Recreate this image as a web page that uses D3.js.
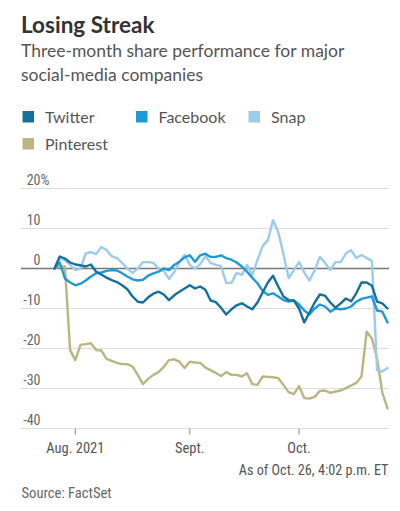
<!DOCTYPE html>
<html>
<head>
<meta charset="utf-8">
<script src="https://cdn.jsdelivr.net/npm/d3@7"></script>
<style>
  html, body { margin: 0; padding: 0; background: #ffffff; }
  svg { display: block; }
  .narrow { font-family: "Liberation Sans Narrow", "Roboto Condensed", "DejaVu Sans Condensed", "Roboto", sans-serif; }
</style>
</head>
<body>
<svg id="chart" width="400" height="511"></svg>
<script>
// ---- DATA ----
const dates = [
  "2021-07-27","2021-07-28","2021-07-29","2021-07-30",
  "2021-08-02","2021-08-03","2021-08-04","2021-08-05","2021-08-06",
  "2021-08-09","2021-08-10","2021-08-11","2021-08-12","2021-08-13",
  "2021-08-16","2021-08-17","2021-08-18","2021-08-19","2021-08-20",
  "2021-08-23","2021-08-24","2021-08-25","2021-08-26","2021-08-27",
  "2021-08-30","2021-08-31",
  "2021-09-01","2021-09-02","2021-09-03",
  "2021-09-07","2021-09-08","2021-09-09","2021-09-10",
  "2021-09-13","2021-09-14","2021-09-15","2021-09-16","2021-09-17",
  "2021-09-20","2021-09-21","2021-09-22","2021-09-23","2021-09-24",
  "2021-09-27","2021-09-28","2021-09-29","2021-09-30",
  "2021-10-01",
  "2021-10-04","2021-10-05","2021-10-06","2021-10-07","2021-10-08",
  "2021-10-11","2021-10-12","2021-10-13","2021-10-14","2021-10-15",
  "2021-10-18","2021-10-19","2021-10-20","2021-10-21","2021-10-22",
  "2021-10-25","2021-10-26"
];

const twitter = [
  0, 3, 2.5, 1.5, 1, 0.8, 0.5, 1, -0.8, -1.5,
  -2.3, -2.9, -3.4, -4.2, -5.2, -7, -8.3, -8.5, -7.2, -6.3,
  -5.8, -6.5, -7.9, -6.7, -5.8, -5, -4.2, -5, -4.5, -5.3,
  -8, -8.4, -9.8, -11.5, -10.2, -9.2, -8.7, -9.5, -10.2, -8.5,
  -6, -3.5, -1.8, -4.5, -7, -7.9, -8, -10, -13.5, -11,
  -8.5, -6.5, -6.8, -8.5, -9.8, -8.7, -7.5, -8.2, -6.2, -3.5,
  -3.5, -4.3, -8.3, -8.7, -10
];

const facebook = [
  0, 1.5, -2.5, -3.5, -4.2, -3.8, -3, -2, -1.2, -1,
  -0.6, -0.4, -0.5, -1.2, -2, -2.7, -3, -2.8, -1.8, -1.2,
  -0.8, 0, -0.4, 0.9, 1.7, 2.8, 3.3, 1.7, 3.3, 3.7,
  2.9, 2.9, 3.3, 2.6, 2.2, 1.5, 0.5, -0.8, -2.3, -3.7,
  -5.6, -6.6, -6.2, -7, -7.9, -8.3, -8, -9, -10.5, -11.5,
  -10, -9, -9.5, -10.8, -10, -10.2, -10, -9.5, -8.3, -7.6,
  -7.3, -7, -10.5, -10.8, -13.5
];

const snap = [
  0, 2.5, 2, 0.9, -0.4, 0, 3.75, 4.1, 3.6, 5.4,
  4.6, 3.1, 2.6, 1.4, 0, -1.1, 0, 1.6, 1.6, 1.4,
  0, -0.6, -2.6, -0.9, 1.6, 3.4, 0.9, 0, 1.1, 3.1,
  1.4, 0.9, 0.6, -3.6, -3.6, -1.1, -1.6, 0.9, -1.6, 2.1,
  5.6, 7.1, 12.1, 9.1, 3.6, -2.4, -0.4, 1.6, -1, -3,
  -0.4, 2.9, 1.4, -0.4, 1.6, 1.6, 3.75, 4.6, 2.6, 3.4,
  2.6, 1.9, -25.4, -25.75, -24.9
];

const pinterest = [
  0, 0.5, 0.5, -20.4, -22.9, -19.1, -18.9, -18.7, -20.4, -20.5,
  -22.6, -23.1, -23.6, -23.9, -23.9, -24.5, -26.6, -28.9, -27.6, -26.6,
  -25.9, -24.6, -22.9, -22.7, -23.3, -24.9, -23.3, -23.5, -23.6, -24.8,
  -25.4, -26.1, -26.9, -25.9, -26.6, -26.6, -27, -26.2, -28.9, -29.1,
  -27, -27.1, -27.2, -27.4, -29.1, -30.9, -31.4, -29.4, -32.4, -32.5,
  -32.1, -30.6, -30.5, -31.1, -30.75, -30.5, -29.9, -29.25, -28.6, -27,
  -15.8, -17.5, -22.5, -31, -35
];

const seriesNames = ["Twitter", "Facebook", "Snap", "Pinterest"];
const seriesColors = ["#17709b", "#1d9ad6", "#9dcbeb", "#bab682"];
const seriesValues = [twitter, facebook, snap, pinterest];

const yTickValues = [20, 10, 0, -10, -20, -30, -40];
const xTickDates = ["2021-08-02", "2021-09-01", "2021-10-01"];
const xTickLabels = ["Aug. 2021", "Sept.", "Oct."];

const titleText = "Losing Streak";
const subtitleLines = ["Three-month share performance for major", "social-media companies"];
const noteText = "As of Oct. 26, 4:02 p.m. ET";
const sourceText = "Source: FactSet";

// ---- CHART ----
const svg = d3.select("#chart");
const gridLeft = 21, gridRight = 389;

const x = d3.scalePoint().domain(dates).range([54.5, 387.5]);
const y = d3.scaleLinear().domain([-40, 20]).range([428.5, 188.5]);

// Layers
const gGrid = svg.append("g");
const gZero = svg.append("g");
const gLines = svg.append("g");
const gText = svg.append("g");

// Title & subtitle
gText.append("text")
  .attr("x", 21).attr("y", 32.5)
  .attr("font-family", "Lato, 'Open Sans', sans-serif")
  .attr("font-weight", 700).attr("font-size", 22.5)
  .attr("fill", "#333333")
  .text(titleText);

gText.append("g").selectAll("text").data(subtitleLines).join("text")
  .attr("x", 21).attr("y", (d, i) => 56.5 + i * 24.5)
  .attr("font-family", "Lato, 'Open Sans', sans-serif")
  .attr("font-size", 17.5)
  .attr("fill", "#555555")
  .text(d => d);

// Legend
const legendPos = [[22.5, 111], [136, 111], [248.5, 111], [22.5, 138]];
const legend = gText.append("g").selectAll("g").data(seriesNames).join("g")
  .attr("transform", (d, i) => `translate(${legendPos[i][0]},${legendPos[i][1]})`);
legend.append("rect")
  .attr("width", 11.5).attr("height", 11.5)
  .attr("fill", (d, i) => seriesColors[i]);
legend.append("text")
  .attr("x", 22.5).attr("y", 11.5)
  .attr("font-family", "Lato, 'Open Sans', sans-serif")
  .attr("font-size", 16)
  .attr("fill", "#555555")
  .text(d => d);

// Gridlines
gGrid.selectAll("line").data(yTickValues.filter(v => v !== 0)).join("line")
  .attr("x1", gridLeft).attr("x2", gridRight)
  .attr("y1", d => y(d)).attr("y2", d => y(d))
  .attr("stroke", "#dddddd").attr("stroke-width", 1);

// Zero line
gZero.append("line")
  .attr("x1", gridLeft).attr("x2", gridRight)
  .attr("y1", y(0)).attr("y2", y(0))
  .attr("stroke", "#777777").attr("stroke-width", 1.5);

// Y labels
gText.append("g").selectAll("text").data(yTickValues).join("text")
  .attr("class", "narrow")
  .attr("x", 40.5).attr("y", d => y(d) - 3.5)
  .attr("text-anchor", "end")
  .attr("font-size", 14)
  .attr("fill", "#666666")
  .text(d => d);
gText.append("text")
  .attr("class", "narrow")
  .attr("x", 40.5).attr("y", y(20) - 3.5)
  .attr("font-size", 14)
  .attr("fill", "#666666")
  .text("%");

// X ticks
gGrid.append("g").selectAll("line").data(xTickDates).join("line")
  .attr("x1", d => x(d)).attr("x2", d => x(d))
  .attr("y1", y(-40)).attr("y2", y(-40) + 6)
  .attr("stroke", "#888888").attr("stroke-width", 1);
gText.append("g").selectAll("text").data(xTickDates).join("text")
  .attr("class", "narrow")
  .attr("x", d => x(d)).attr("y", 453)
  .attr("text-anchor", "middle")
  .attr("font-size", 14.5)
  .attr("fill", "#555555")
  .text((d, i) => xTickLabels[i]);

// Note & source
gText.append("text")
  .attr("class", "narrow")
  .attr("x", 388.5).attr("y", 475)
  .attr("text-anchor", "end")
  .attr("font-size", 14.2)
  .attr("fill", "#555555")
  .text(noteText);
gText.append("text")
  .attr("class", "narrow")
  .attr("x", 21.5).attr("y", 497.5)
  .attr("font-size", 14.6)
  .attr("fill", "#666666")
  .text(sourceText);

// Lines (Pinterest, Snap, Facebook, Twitter order)
const line = d3.line()
  .x((d, i) => x(dates[i]))
  .y(d => y(d))
  .curve(d3.curveLinear);

const drawOrder = [3, 2, 1, 0];
gLines.selectAll("path").data(drawOrder).join("path")
  .attr("d", k => line(seriesValues[k]))
  .attr("fill", "none")
  .attr("stroke", k => seriesColors[k])
  .attr("stroke-width", 2.4)
  .attr("stroke-linejoin", "round")
  .attr("stroke-linecap", "round");
</script>
</body>
</html>
